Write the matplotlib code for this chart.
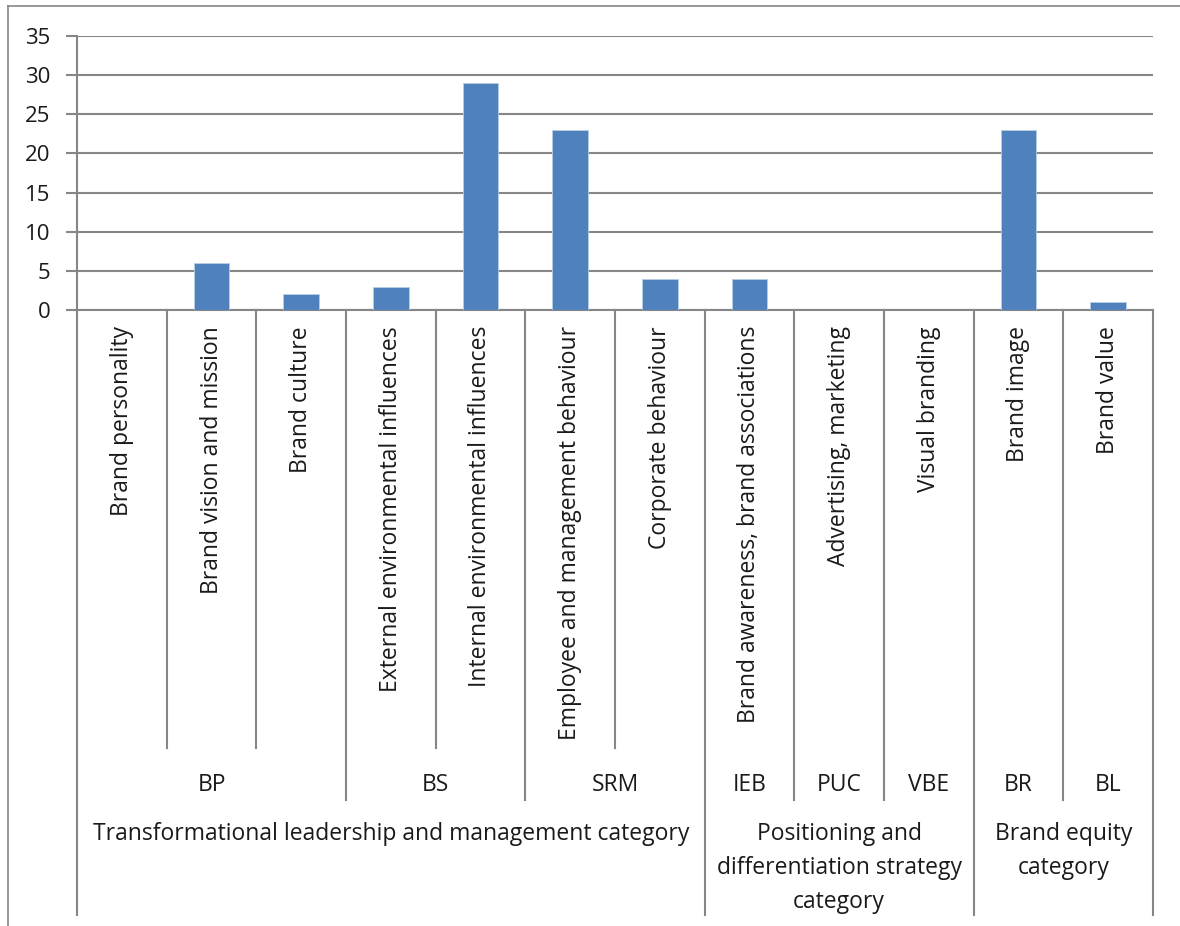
import matplotlib
matplotlib.use("Agg")
import matplotlib.pyplot as plt
from matplotlib.lines import Line2D

# data
items = ["Brand personality", "Brand vision and mission", "Brand culture",
         "External environmental influences", "Internal environmental influences",
         "Employee and management behaviour", "Corporate behaviour",
         "Brand awareness, brand associations", "Advertising, marketing",
         "Visual branding", "Brand image", "Brand value"]
values = [0, 6, 2, 3, 29, 23, 4, 4, 0, 0, 23, 1]

subgroups = ["BP", "BS", "SRM", "IEB", "PUC", "VBE", "BR", "BL"]
subgroup_sizes = [3, 2, 2, 1, 1, 1, 1, 1]

groups = ["Transformational leadership and management category",
          "Positioning and\ndifferentiation strategy\ncategory",
          "Brand equity\ncategory"]
group_sizes = [7, 3, 2]

W, H = 1180, 926
plt.rcParams["font.family"] = ["Open Sans", "DejaVu Sans"]
txt = "#1a1a1a"
grid = "#868686"
fs = 16.5

fig = plt.figure(figsize=(W / 100, H / 100), dpi=100)

def fx(px):
    return px / W

def fy(py):
    return 1 - py / H

# chart area border (left and top edges visible)
fig.add_artist(Line2D([fx(8), fx(8)], [fy(6), 0], color=grid, lw=1.2))
fig.add_artist(Line2D([fx(8), 1], [fy(6), fy(6)], color=grid, lw=1.2))

left, right, top, base = 77, 1153, 36, 310
ax = fig.add_axes([fx(left), fy(base), fx(right - left), fy(top) - fy(base)])
x = list(range(len(values)))
ax.bar(x, values, width=0.4, color="#4F81BD", edgecolor="#B9CDE5", linewidth=0.6, zorder=3)
ax.set_xlim(-0.5, len(values) - 0.5)
ax.set_ylim(0, 35)
ax.set_yticks(range(0, 36, 5))
ax.yaxis.grid(True, color=grid, lw=1.5)
ax.set_axisbelow(True)
ax.set_xticks([])
for s in ["top", "right"]:
    ax.spines[s].set_visible(False)
for s in ["left", "bottom"]:
    ax.spines[s].set_color(grid)
    ax.spines[s].set_linewidth(1.5)
ax.tick_params(axis="y", length=8, width=1.5, color=grid, labelsize=fs - 0.5, labelcolor=txt, pad=11)

# category table below the plot
bottom_px = 915
tab = fig.add_axes([fx(left), fy(bottom_px), fx(right - left), fy(base) - fy(bottom_px)])
tab.set_xlim(-0.5, len(values) - 0.5)
tab.set_ylim(bottom_px, base)
tab.axis("off")

lvl1, lvl2 = 748, 800

def bounds(sizes):
    out = [0]
    for s in sizes:
        out.append(out[-1] + s)
    return out

g_b = bounds(group_sizes)
s_b = bounds(subgroup_sizes)
for b in range(len(values) + 1):
    if b in g_b:
        y_end = bottom_px
    elif b in s_b:
        y_end = lvl2
    else:
        y_end = lvl1
    tab.plot([b - 0.5, b - 0.5], [base, y_end], color=grid, lw=1.5, clip_on=False)

for i, name in enumerate(items):
    tab.text(i, base + 16, name, rotation=90, ha="center", va="top", fontsize=fs, color=txt)

for j, name in enumerate(subgroups):
    c = (s_b[j] + s_b[j + 1] - 1) / 2
    tab.text(c, 785, name, ha="center", va="center", fontsize=fs, color=txt)

for j, name in enumerate(groups):
    c = (g_b[j] + g_b[j + 1] - 1) / 2
    tab.text(c, 822, name, ha="center", va="top", fontsize=fs, color=txt, linespacing=1.55)

fig.savefig("out.png", dpi=100)
